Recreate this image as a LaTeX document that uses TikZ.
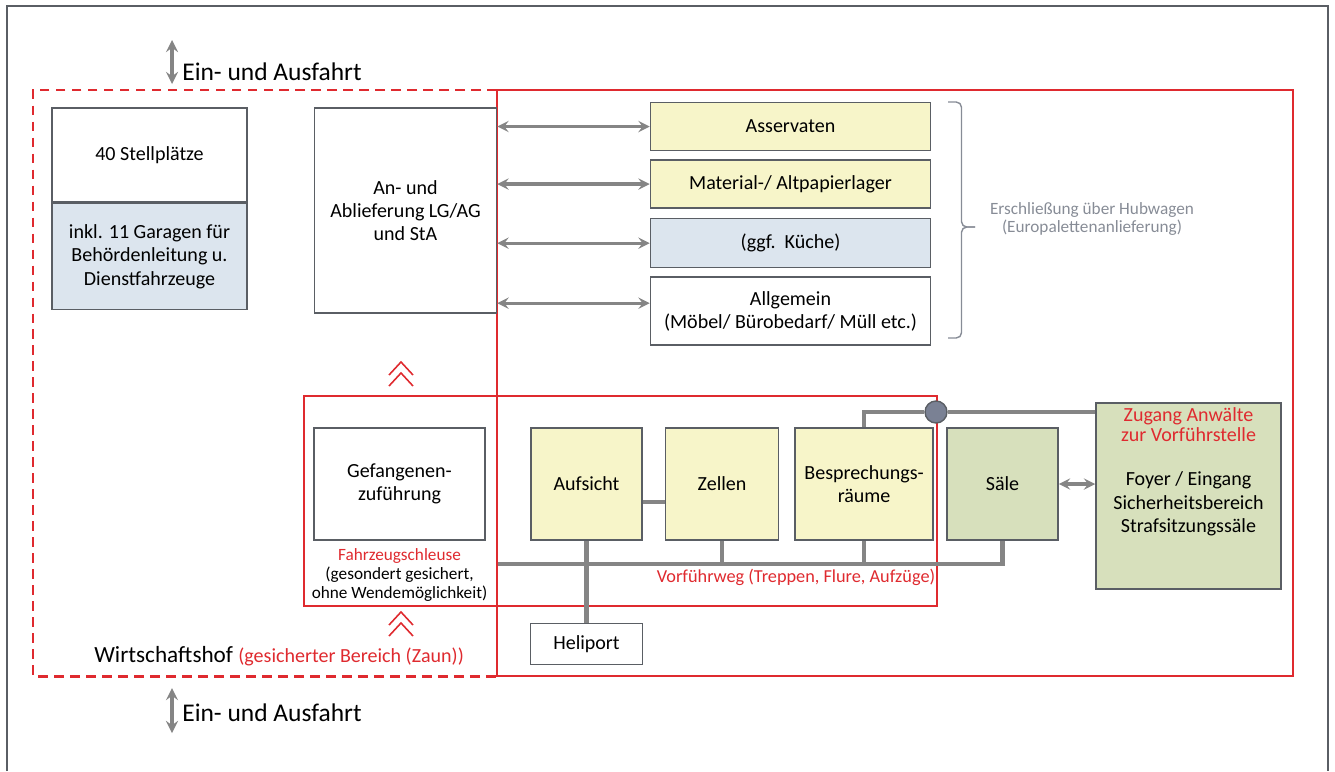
\documentclass[tikz,border=0pt]{standalone}
\usepackage{fontspec}
\setmainfont{Carlito}
\usetikzlibrary{arrows, positioning}

\definecolor{linegray}{HTML}{858585}
\definecolor{boxgray}{HTML}{5A5E64}
\definecolor{fencered}{HTML}{DF2A2F}
\definecolor{roomyellow}{HTML}{F7F5C9}
\definecolor{roomblue}{HTML}{DCE5EE}
\definecolor{roomgreen}{HTML}{D7E0BC}
\definecolor{hubgray}{HTML}{878C96}
\definecolor{knotgray}{HTML}{7A8194}

\tikzstyle{room} = [
	rectangle,
	draw=boxgray,
	line width=0.9pt,
	text centered,
	align=center,
	inner sep=1pt,
	font=\fontsize{11.4}{13.3}\selectfont
]
\tikzstyle{yellowroom} = [room, fill=roomyellow]
\tikzstyle{blueroom} = [room, fill=roomblue]
\tikzstyle{greenroom} = [room, fill=roomgreen]
\tikzstyle{storeroom} = [
	minimum width=5.6cm,
	minimum height=0.96cm
]
\tikzstyle{cellroom} = [
	minimum width=2.22cm,
	minimum height=2.24cm
]
\tikzstyle{redlabel} = [
	text=fencered,
	align=center,
	inner sep=0pt,
	font=\fontsize{10.4}{11}\selectfont
]
\tikzstyle{gatelabel} = [
	anchor=west,
	inner sep=0pt,
	font=\fontsize{14.5}{16}\selectfont
]
\tikzstyle{fence} = [draw=fencered, line width=1.4pt]
\tikzstyle{corridor} = [draw=linegray, line width=2.3pt]
\tikzstyle{twoway} = [draw=linegray, line width=1.8pt, <->, >=stealth]
\tikzstyle{chevron} = [draw=fencered, line width=0.9pt]
\tikzstyle{hubbrace} = [draw=hubgray, line width=0.8pt, rounded corners=3pt]

\begin{document}
\begin{tikzpicture}[x=0.02cm, y=-0.02cm]
	\useasboundingbox (0,0) rectangle (1335,771);
	% frame and fences
	\draw[boxgray, line width=1pt] (7,771) -- (7,6) -- (1328,6) -- (1328,771);
	\draw[fence, line width=1.7pt, dash pattern=on 5.5pt off 3.6pt] (497,90) -- (33,90) -- (33,676) -- (497,676);
	\draw[fence] (497,90) rectangle (1293,676);
	\draw[fence] (304,396) rectangle (937,606);
	
	% Wirtschaftshof
	\node (park) [room, minimum width=3.9cm, minimum height=1.88cm] at (149.5,155) {40 Stellplätze};
	\node (garage) [blueroom, minimum width=3.9cm, minimum height=2.12cm, below=0cm of park] {inkl. 11 Garagen für\\Behördenleitung u.\\Dienstfahrzeuge};
	\node (deliv) [room, minimum width=3.64cm, minimum height=4.1cm] at (405.5,210.5) {An- und\\Ablieferung LG/AG\\und StA};
	
	\coordinate (gatein) at (172,40);
	\coordinate (gateinend) at (172,84);
	\coordinate (gateout) at (172,688);
	\coordinate (gateoutend) at (172,733);
	\node (gateinlabel) [gatelabel] at (182,72) {Ein- und Ausfahrt};
	\node (gateoutlabel) [gatelabel] at (182,713) {Ein- und Ausfahrt};
	\node (yardlabel) [anchor=west, inner sep=0pt, font=\fontsize{13.2}{15}\selectfont] at (94,656) {Wirtschaftshof \textcolor{fencered}{\fontsize{11.4}{13}\selectfont(gesicherter Bereich (Zaun))}};
	
	% Lager
	\node (asserv) [yellowroom, storeroom] at (790.5,126.5) {Asservaten};
	\node (material) [yellowroom, storeroom, below=0.16cm of asserv] {Material-/ Altpapierlager};
	\node (kueche) [blueroom, storeroom, minimum height=0.98cm, below=0.18cm of material] {(ggf.\ \ Küche)};
	\node (allg) [room, storeroom, minimum height=1.36cm, below=0.16cm of kueche] {Allgemein\\(Möbel/ Bürobedarf/ Müll etc.)};
	\node (hubtext) [text=hubgray, align=center, font=\fontsize{9.8}{10.3}\selectfont] at (1092,219) {Erschließung über Hubwagen\\(Europalettenanlieferung)};
	\coordinate (bracetop) at (948,102);
	\coordinate (bracebot) at (948,338);
	\coordinate (bracetip) at (975,227);
	
	% Vorfuehrbereich
	\node (gef) [room, minimum width=3.42cm, minimum height=2.24cm] at (399.5,484) {Gefangenen-\\zuführung};
	\node (lock) [redlabel, text=black, font=\fontsize{9.8}{10.8}\selectfont, below=0.14cm of gef] {\textcolor{fencered}{Fahrzeugschleuse}\\(gesondert gesichert,\\ohne Wendemöglichkeit)};
	\node (aufsicht) [yellowroom, cellroom] at (586.5,484) {Aufsicht};
	\node (zellen) [yellowroom, cellroom, minimum width=2.26cm, right=0.44cm of aufsicht] {Zellen};
	\node (bespr) [yellowroom, cellroom, minimum width=2.76cm, right=0.3cm of zellen] {Besprechungs-\\räume};
	\node (saele) [greenroom, cellroom] at (1002.5,484) {Säle};
	\node (foyer) [greenroom, minimum width=3.7cm, minimum height=3.72cm] at (1188.5,496) {};
	\node (foyertext) [room, draw=none, fill=none] at ([yshift=-0.16cm]foyer.center) {Foyer / Eingang\\Sicherheitsbereich\\Strafsitzungssäle};
	\node (lawyer) [redlabel, font=\fontsize{11.4}{11.4}\selectfont, below=0.1cm of foyer.north] {Zugang Anwälte\\zur Vorführstelle};
	\node (heli) [room, minimum width=2.24cm, minimum height=0.82cm, below=1.64cm of aufsicht] {Heliport};
	\node (walklabel) [redlabel] at (796,577) {Vorführweg (Treppen, Flure, Aufzüge)};
	\coordinate (walk) at (498,564);
	\coordinate (allgin) at ([yshift=0.16cm]allg.west);
	
	% chevrons
	\foreach \y in {362, 373, 612, 623} {
		\draw[chevron] (389,\y+13) -- (401,\y) -- (413,\y+13);
	}
	
	% connectors
	\draw[twoway, line width=2pt] (gatein) -- (gateinend);
	\draw[twoway, line width=2pt] (gateout) -- (gateoutend);
	\draw[twoway] (deliv.east |- asserv.west) -- (asserv.west);
	\draw[twoway] (deliv.east |- material.west) -- (material.west);
	\draw[twoway] (deliv.east |- kueche.west) -- (kueche.west);
	\draw[twoway] (allgin -| deliv.east) -- (allgin);
	\draw[hubbrace] (bracetop) -| ([xshift=-0.27cm]bracetip) -- (bracetip);
	\draw[hubbrace] (bracebot) -| ([xshift=-0.27cm]bracetip) -- (bracetip);
	
	\draw[corridor] ([yshift=-0.36cm]aufsicht.east) -- ([yshift=-0.36cm]zellen.west);
	\draw[corridor] (walk) -| (saele.south);
	\draw[corridor] (aufsicht.south) -- (heli.north);
	\draw[corridor] (zellen.south) -- (zellen.south |- walk);
	\draw[corridor] (bespr.south) -- (bespr.south |- walk);
	\node (knot) [circle, draw=boxgray, fill=knotgray, line width=0.8pt, minimum size=0.44cm, inner sep=0pt] at (936,412) {};
	\draw[corridor] (bespr.north) |- (knot.west);
	\draw[corridor] (knot.east) -- (knot.east -| foyer.west);
	\draw[twoway] (saele.east) -- (saele.east -| foyer.west);
\end{tikzpicture}
\end{document}
